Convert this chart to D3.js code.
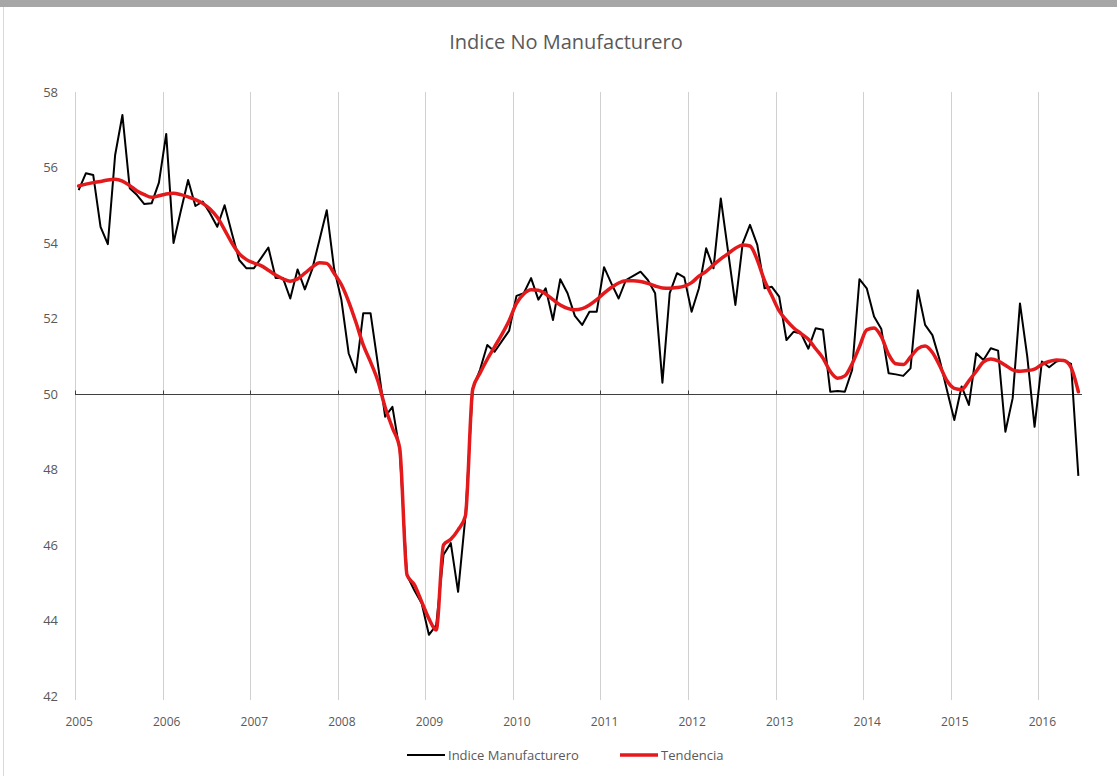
<!DOCTYPE html>
<html>
<head>
<meta charset="utf-8">
<script src="https://cdn.jsdelivr.net/npm/d3@7"></script>
<style>
  body { margin: 0; background: #fff; }
  text { font-family: "Open Sans", sans-serif; fill: #595959; }
</style>
</head>
<body>
<div id="chart"></div>
<script>
var years = [2005, 2006, 2007, 2008, 2009, 2010, 2011, 2012, 2013, 2014, 2015, 2016];
var yTicks = [42, 44, 46, 48, 50, 52, 54, 56, 58];

// monthly values, Jan 2005 - Jun 2016
var indice = [
  55.40, 55.85, 55.80, 54.43, 53.97, 56.33, 57.39, 55.45, 55.27, 55.03, 55.05, 55.60,
  56.89, 54.00, 54.85, 55.67, 54.98, 55.10, 54.79, 54.43, 55.00, 54.26, 53.55, 53.33,
  53.33, 53.60, 53.88, 53.07, 53.07, 52.53, 53.30, 52.77, 53.30, 54.08, 54.87, 53.33,
  52.50, 51.08, 50.57, 52.14, 52.14, 50.80, 49.40, 49.66, 48.50, 45.20, 44.80, 44.46,
  43.62, 43.88, 45.74, 46.05, 44.76, 46.75, 50.15, 50.64, 51.30, 51.12, 51.40, 51.68,
  52.60, 52.67, 53.07, 52.50, 52.80, 51.96, 53.04, 52.67, 52.07, 51.83, 52.18, 52.18,
  53.36, 52.93, 52.53, 53.02, 53.13, 53.24, 53.02, 52.67, 50.30, 52.67, 53.20, 53.09,
  52.18, 52.80, 53.86, 53.33, 55.18, 53.77, 52.36, 53.99, 54.48, 53.95, 52.80, 52.84,
  52.58, 51.43, 51.65, 51.60, 51.20, 51.74, 51.70, 50.06, 50.08, 50.06, 50.64, 53.04,
  52.80, 52.05, 51.72, 50.55, 50.52, 50.48, 50.68, 52.75, 51.83, 51.56, 50.90, 50.10,
  49.31, 50.20, 49.71, 51.08, 50.90, 51.21, 51.15, 49.00, 49.89, 52.40, 50.99, 49.13,
  50.86, 50.71, 50.86, 50.90, 50.80, 47.83
];

var tendencia = [
  55.51, 55.56, 55.60, 55.63, 55.67, 55.69, 55.64, 55.52, 55.38, 55.28, 55.21, 55.25,
  55.30, 55.32, 55.28, 55.22, 55.15, 55.05, 54.90, 54.68, 54.35, 54.00, 53.72, 53.56,
  53.47, 53.40, 53.28, 53.15, 53.05, 52.99, 53.05, 53.20, 53.36, 53.48, 53.46, 53.20,
  52.90, 52.45, 51.90, 51.30, 50.85, 50.35, 49.65, 49.10, 48.56, 45.21, 44.95, 44.50,
  44.05, 43.75, 46.00, 46.15, 46.40, 46.77, 50.12, 50.55, 50.92, 51.25, 51.58, 51.95,
  52.40, 52.65, 52.76, 52.75, 52.65, 52.50, 52.36, 52.27, 52.23, 52.26, 52.36, 52.50,
  52.67, 52.82, 52.94, 53.00, 53.00, 52.98, 52.93, 52.86, 52.81, 52.80, 52.82, 52.86,
  52.95, 53.12, 53.25, 53.42, 53.58, 53.72, 53.86, 53.95, 53.92, 53.55, 53.00, 52.60,
  52.20, 51.95, 51.75, 51.60, 51.45, 51.20, 50.95, 50.60, 50.42, 50.48, 50.80, 51.25,
  51.70, 51.75, 51.52, 51.05, 50.80, 50.78, 50.98, 51.20, 51.27, 51.10, 50.75, 50.35,
  50.15, 50.12, 50.35, 50.60, 50.85, 50.93, 50.88, 50.76, 50.64, 50.60, 50.62, 50.66,
  50.78, 50.86, 50.90, 50.89, 50.70, 50.06
];

var w = 1117, h = 776;
var margin = {top: 92, right: 35, bottom: 80, left: 75};

var svg = d3.select("#chart").append("svg")
    .attr("width", w)
    .attr("height", h);

// grey strip at the very top and the chart frame edge
svg.append("rect").attr("x", 0).attr("y", 0).attr("width", w).attr("height", 7).attr("fill", "#a6a6a6");
svg.append("line").attr("x1", 3.5).attr("x2", 3.5).attr("y1", 7).attr("y2", h).attr("stroke", "#d9d9d9");

var months = d3.range(indice.length);
var x = d3.scaleBand().domain(months).range([margin.left, w - margin.right]).padding(0);
var bw = x.bandwidth();
var y = d3.scaleLinear().domain([42, 58]).range([h - margin.bottom, margin.top]);

// vertical year gridlines
svg.append("g").selectAll("line")
  .data(years)
  .enter().append("line")
    .attr("x1", function(d, i) { return Math.round(x(i * 12)) + 0.5; })
    .attr("x2", function(d, i) { return Math.round(x(i * 12)) + 0.5; })
    .attr("y1", y(58))
    .attr("y2", y(42) + 4)
    .attr("stroke", "#d0d0d0")
    .attr("stroke-width", 1);

// axis line at 50
var y50 = Math.round(y(50)) + 0.5;
svg.append("line")
  .attr("x1", margin.left).attr("x2", w - margin.right)
  .attr("y1", y50).attr("y2", y50)
  .attr("stroke", "#404040").attr("stroke-width", 1);
svg.append("g").selectAll("line")
  .data(years)
  .enter().append("line")
    .attr("x1", function(d, i) { return Math.round(x(i * 12)) + 0.5; })
    .attr("x2", function(d, i) { return Math.round(x(i * 12)) + 0.5; })
    .attr("y1", y50 - 4).attr("y2", y50)
    .attr("stroke", "#404040");

// y labels
var yAxis = svg.append("g")
    .attr("transform", "translate(" + margin.left + ",0)")
    .call(d3.axisLeft(y).tickValues(yTicks).tickSize(0).tickPadding(17));
yAxis.select(".domain").remove();
yAxis.selectAll("text").attr("font-size", 13).attr("font-family", "Open Sans").attr("fill", "#595959");

// x labels (years)
var xYear = d3.scaleLinear().domain([2005, 2016]).range([x(0) + bw / 2, x(132) + bw / 2]);
var xAxis = svg.append("g")
    .attr("transform", "translate(0," + y(42) + ")")
    .call(d3.axisBottom(xYear).tickValues(years).tickFormat(d3.format("d")).tickSize(0).tickPadding(21));
xAxis.select(".domain").remove();
xAxis.selectAll("text").attr("font-size", 12).attr("font-family", "Open Sans").attr("fill", "#595959");

// lines
var lineIndice = d3.line()
    .x(function(d, i) { return x(i) + bw / 2; })
    .y(function(d) { return y(d); });

var lineTend = d3.line()
    .x(function(d, i) { return x(i) + bw / 2; })
    .y(function(d) { return y(d); })
    .curve(d3.curveMonotoneX);

svg.append("path")
  .datum(indice)
  .attr("d", lineIndice)
  .attr("fill", "none")
  .attr("stroke", "#000")
  .attr("stroke-width", 2)
  .attr("stroke-linejoin", "round");

svg.append("path")
  .datum(tendencia)
  .attr("d", lineTend)
  .attr("fill", "none")
  .attr("stroke", "#e3191c")
  .attr("stroke-width", 3.5)
  .attr("stroke-linejoin", "round")
  .attr("stroke-linecap", "round");

// title
svg.append("text")
  .attr("x", 566)
  .attr("y", 49)
  .attr("text-anchor", "middle")
  .attr("font-size", 20)
  .text("Indice No Manufacturero");

// legend
var legend = [
  {name: "Indice Manufacturero", color: "#000", width: 2, x: 407},
  {name: "Tendencia", color: "#e3191c", width: 3.5, x: 620}
];
var lg = svg.append("g").selectAll("g")
  .data(legend)
  .enter().append("g")
    .attr("transform", function(d) { return "translate(" + d.x + ",755)"; });
lg.append("line")
  .attr("x1", 0).attr("x2", 38)
  .attr("stroke", function(d) { return d.color; })
  .attr("stroke-width", function(d) { return d.width; });
lg.append("text")
  .attr("x", 41)
  .attr("dy", "0.35em")
  .attr("font-size", 13)
  .text(function(d) { return d.name; });
</script>
</body>
</html>
